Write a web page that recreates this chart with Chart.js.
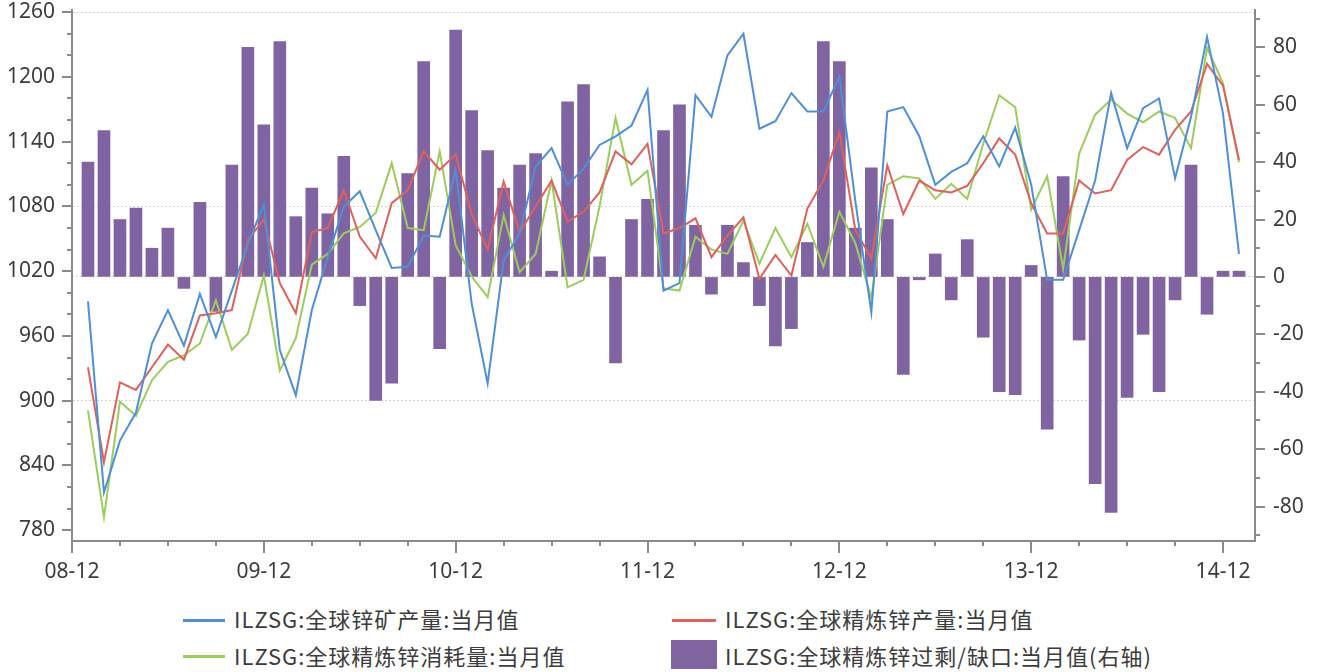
<!DOCTYPE html>
<html>
<head>
<meta charset="utf-8">
<script src="https://cdn.jsdelivr.net/npm/chart.js@4.4.0/dist/chart.umd.min.js"></script>
<style>
  body { margin: 0; background: #fff; }
  #wrap { position: relative; width: 1322px; height: 672px; }
  #chart { position: absolute; left: 0; top: 0; }
  .leg { position: absolute; font-family: "Noto Sans CJK SC", "Noto Sans", sans-serif;
         font-size: 22px; color: #3c3c3c; white-space: nowrap; line-height: 1; letter-spacing: 1px; }
  .sw { position: absolute; }
</style>
</head>
<body>
<div id="wrap">
  <canvas id="chart" width="1322" height="600"></canvas>
  <div class="sw" style="left:183px;top:619px;width:42px;height:3px;background:#4f8fd6"></div>
  <div class="leg" style="left:234px;top:607px">ILZSG:全球锌矿产量:当月值</div>
  <div class="sw" style="left:672px;top:619px;width:44px;height:3px;background:#e0605b"></div>
  <div class="leg" style="left:725px;top:607px">ILZSG:全球精炼锌产量:当月值</div>
  <div class="sw" style="left:183px;top:655px;width:42px;height:3px;background:#9ccd5c"></div>
  <div class="leg" style="left:234px;top:644px">ILZSG:全球精炼锌消耗量:当月值</div>
  <div class="sw" style="left:671px;top:640px;width:46px;height:29px;background:#8064a2"></div>
  <div class="leg" style="left:725px;top:644px">ILZSG:全球精炼锌过剩/缺口:当月值(右轴)</div>
</div>
<script>
// month axis: 08-12 .. 15-02 (data runs 09-01 .. 15-01)
const months = [];
for (let y = 2008, m = 12; y < 2015 || m <= 2; ) {
  months.push(String(y % 100).padStart(2, '0') + '-' + String(m).padStart(2, '0'));
  m++;
  if (m > 12) { m = 1; y++; }
}

// 全球锌矿产量 (千吨)
const mineOutput = [
  992, 815, 863, 889, 953, 984, 951, 999, 959, 1002, 1045, 1082,
  947, 905, 984, 1033, 1080, 1094, 1058, 1023, 1024, 1053, 1052, 1114,
  990, 916, 1030, 1055, 1117, 1134, 1100, 1115, 1137, 1145, 1155, 1188,
  1002, 1009, 1183, 1163, 1220, 1240, 1152, 1159, 1185, 1168, 1168, 1200,
  1085, 982, 1168, 1172, 1145, 1100, 1112, 1120, 1145, 1117, 1153, 1100,
  1012, 1012, 1058, 1104, 1185, 1134, 1171, 1180, 1106, 1163, 1237, 1166,
  1036
];

// 全球精炼锌产量
const refinedOutput = [
  931, 843, 917, 910, 931, 952, 938, 979, 981, 984, 1049, 1068,
  1009, 981, 1056, 1060, 1095, 1052, 1032, 1083, 1095, 1131, 1114, 1128,
  1073, 1040, 1103, 1056, 1080, 1104, 1066, 1075, 1093, 1131, 1119, 1138,
  1055, 1060, 1069, 1033, 1053, 1070, 1013, 1035, 1016, 1078, 1104, 1149,
  1058, 1032, 1118, 1073, 1104, 1095, 1093, 1099, 1120, 1143, 1128, 1083,
  1055, 1055, 1104, 1092, 1095, 1123, 1135, 1128, 1151, 1168, 1212, 1192,
  1123
];

// 全球精炼锌消耗量
const refinedUsage = [
  891, 792, 899, 886, 919, 936, 942, 953, 993, 947, 962, 1016,
  928, 958, 1026, 1036, 1055, 1061, 1074, 1120, 1060, 1058, 1131, 1044,
  1015, 996, 1072, 1019, 1036, 1104, 1005, 1012, 1080, 1162, 1100, 1113,
  1004, 1002, 1052, 1040, 1036, 1067, 1027, 1060, 1033, 1064, 1024, 1075,
  1046, 995, 1100, 1108, 1106, 1087, 1101, 1087, 1138, 1183, 1172, 1077,
  1108, 1022, 1129, 1165, 1179, 1166, 1158, 1168, 1162, 1134, 1227, 1194,
  1121
];

// 全球精炼锌过剩/缺口 (右轴)
const balance = [
  40, 51, 20, 24, 10, 17, -4, 26, -12, 39, 80, 53,
  82, 21, 31, 22, 42, -10, -43, -37, 36, 75, -25, 86,
  58, 44, 31, 39, 43, 2, 61, 67, 7, -30, 20, 27,
  51, 60, 18, -6, 18, 5, -10, -24, -18, 12, 82, 75,
  17, 38, 20, -34, -1, 8, -8, 13, -21, -40, -41, 4,
  -53, 35, -22, -72, -82, -42, -20, -40, -8, 39, -13, 2,
  2
];

const pad = arr => [null, ...arr, null];

const axisColor = '#8a8a8a';
const textColor = '#3c3c3c';
const tickFont = { family: '"Noto Sans", sans-serif', size: 21 };

// fixed axis sizes so the plot area sits where it does in the original
const fixBox = (w, h) => s => {
  if (w) s.width = w;
  if (h) s.height = h;
  s.paddingTop = 0; s.paddingBottom = 0;
  s.paddingLeft = 0; s.paddingRight = 0;
};

// tick marks drawn by hand so major and minor ticks can differ in length
const tickMarks = {
  id: 'tickMarks',
  afterDraw(chart) {
    const { ctx, chartArea } = chart;
    ctx.save();
    ctx.strokeStyle = axisColor;
    ctx.lineWidth = 2;
    ctx.beginPath();
    const x = chart.scales.x;
    x.ticks.forEach((t, i) => {
      const px = Math.round(x.getPixelForTick(i));
      const len = t.value % 12 === 0 ? 12 : 5;
      ctx.moveTo(px, chartArea.bottom);
      ctx.lineTo(px, chartArea.bottom + len);
    });
    const yl = chart.scales.y;
    yl.ticks.forEach((t, i) => {
      const py = Math.round(yl.getPixelForTick(i));
      const len = (t.value - 780) % 60 === 0 ? 10 : 5;
      ctx.moveTo(chartArea.left, py);
      ctx.lineTo(chartArea.left - len, py);
    });
    const yr = chart.scales.y1;
    yr.ticks.forEach((t, i) => {
      const py = Math.round(yr.getPixelForTick(i));
      const len = t.value % 20 === 0 ? 10 : 5;
      ctx.moveTo(chartArea.right, py);
      ctx.lineTo(chartArea.right + len, py);
    });
    ctx.stroke();
    ctx.restore();
  }
};

new Chart(document.getElementById('chart'), {
  data: {
    labels: months,
    datasets: [
      {
        type: 'line', label: 'ILZSG:全球锌矿产量:当月值', data: pad(mineOutput),
        yAxisID: 'y', borderColor: '#4f8fd6', borderWidth: 2, pointRadius: 0, order: 1
      },
      {
        type: 'line', label: 'ILZSG:全球精炼锌产量:当月值', data: pad(refinedOutput),
        yAxisID: 'y', borderColor: '#e0605b', borderWidth: 2, pointRadius: 0, order: 1
      },
      {
        type: 'line', label: 'ILZSG:全球精炼锌消耗量:当月值', data: pad(refinedUsage),
        yAxisID: 'y', borderColor: '#9ccd5c', borderWidth: 2, pointRadius: 0, order: 1
      },
      {
        type: 'bar', label: 'ILZSG:全球精炼锌过剩/缺口:当月值(右轴)', data: pad(balance),
        yAxisID: 'y1', backgroundColor: '#8064a2', barThickness: 12, order: 2
      }
    ]
  },
  options: {
    responsive: false,
    animation: false,
    devicePixelRatio: 1,
    layout: { padding: { top: 10, left: 0, right: 0, bottom: 0 } },
    plugins: { legend: { display: false }, tooltip: { enabled: false } },
    scales: {
      x: {
        type: 'category',
        offset: false,
        afterBuildTicks: s => { s.ticks = s.ticks.filter(t => t.value % 3 === 0); },
        afterFit: fixBox(0, 59),
        grid: { display: false, drawTicks: false },
        border: { color: axisColor, width: 2 },
        ticks: {
          autoSkip: false, maxRotation: 0, padding: 18,
          color: textColor, font: tickFont,
          callback: v => (v % 12 === 0 ? months[v] : '')
        }
      },
      y: {
        position: 'left',
        min: 770, max: 1262,
        afterFit: fixBox(72, 0),
        grid: {
          drawTicks: false,
          color: c => ([1260, 1080, 900].includes(c.tick.value) ? '#d4d4d4' : 'rgba(0,0,0,0)')
        },
        border: { color: axisColor, width: 2, dash: [2, 2] },
        ticks: {
          autoSkip: false, stepSize: 20, includeBounds: false, padding: 17,
          color: textColor, font: tickFont,
          callback: v => ((v - 780) % 60 === 0 ? v : '')
        }
      },
      y1: {
        position: 'right',
        min: -92, max: 93,
        afterFit: fixBox(67, 0),
        grid: {
          drawTicks: false,
          color: c => (c.tick.value === 0 ? '#d4d4d4' : 'rgba(0,0,0,0)')
        },
        border: { color: axisColor, width: 2, dash: [2, 2] },
        ticks: {
          autoSkip: false, stepSize: 10, includeBounds: false, padding: 18,
          color: textColor, font: tickFont,
          callback: v => (v % 20 === 0 ? v : '')
        }
      }
    }
  },
  plugins: [tickMarks]
});
</script>
</body>
</html>
